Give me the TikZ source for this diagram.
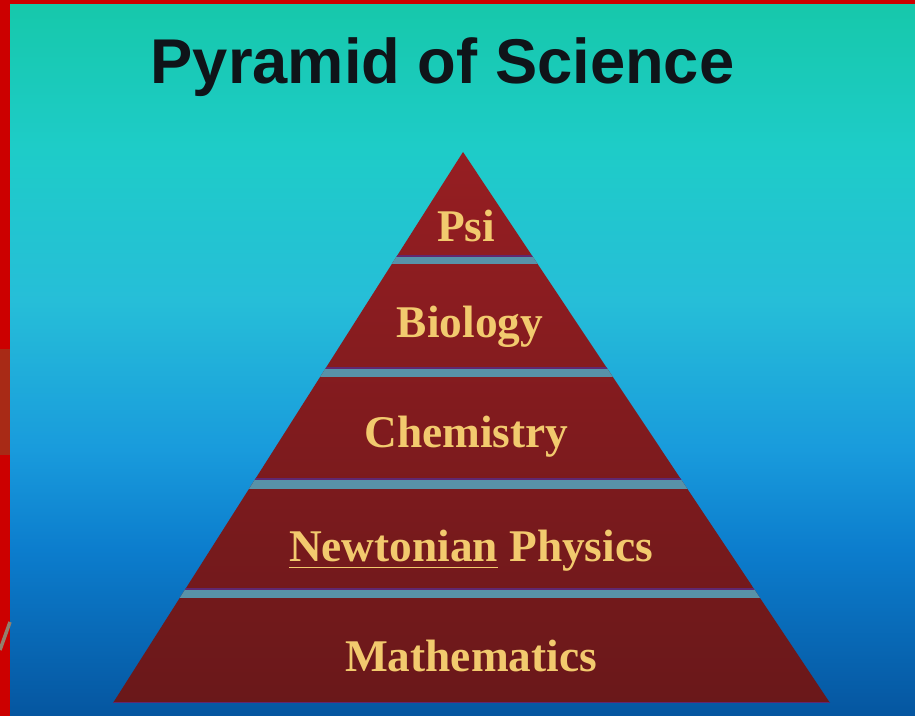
\documentclass[tikz,border=0pt]{standalone}
\usepackage{fontspec}
\setmainfont{Liberation Serif}
\setsansfont{Liberation Sans}
\definecolor{sky0}{RGB}{22,200,170}
\definecolor{sky1}{RGB}{30,204,200}
\definecolor{sky2}{RGB}{38,190,216}
\definecolor{sky3}{RGB}{25,155,220}
\definecolor{sky4}{RGB}{12,125,205}
\definecolor{sky5}{RGB}{5,86,160}
\definecolor{brickhi}{RGB}{150,30,34}
\definecolor{brickdark}{RGB}{106,24,26}
\definecolor{seam}{RGB}{88,146,168}
\definecolor{seamedge}{RGB}{96,40,112}
\definecolor{goldtxt}{RGB}{242,202,110}
\definecolor{edgered}{RGB}{204,0,0}
\definecolor{edgebrown}{RGB}{168,42,22}
\definecolor{titleink}{RGB}{15,20,25}
\pgfdeclareverticalshading{skyfade}{100bp}{
  color(0bp)=(sky5); color(25bp)=(sky5); color(36.6bp)=(sky4);
  color(43.6bp)=(sky3); color(54bp)=(sky2); color(64.5bp)=(sky1);
  color(75bp)=(sky0); color(100bp)=(sky0)}
\begin{document}
\begin{tikzpicture}[
    layer/.style={text=goldtxt, inner sep=0pt, anchor=base,
                  font=\fontsize{12.9}{15}\selectfont\bfseries},
    heading/.style={text=titleink, inner sep=0pt, anchor=base,
                    font=\sffamily\fontsize{18}{22}\selectfont\bfseries},
    gapband/.style={fill=seam}
]
\useasboundingbox (0,0) rectangle (9.15,7.16);
\shade[shading=skyfade] (0,0) rectangle (9.15,7.16);
\fill[edgered] (0,0) rectangle (0.1,7.16);
\fill[edgered] (0,7.12) rectangle (9.15,7.16);
\fill[edgebrown] (0,2.61) rectangle (0.1,3.67);
\draw[line width=1pt, gray!70!brown] (0,0.66) -- (0.1,0.94);

\coordinate (apex) at (4.63,5.64);
\coordinate (baseL) at (1.13,0.13);
\coordinate (baseR) at (8.30,0.13);
\shade[top color=brickhi, bottom color=brickdark] (apex) -- (baseL) -- (baseR) -- cycle;
\begin{scope}
\clip (apex) -- (baseL) -- (baseR) -- cycle;
\foreach \lo/\hi in {4.52/4.60, 3.39/3.48, 2.27/2.37, 1.18/1.27} {
    \fill[gapband] (0,\lo) rectangle (9.15,\hi);
    \draw[seamedge, line width=0.5pt] (0,\hi) -- (9.15,\hi);
}
\draw[seamedge, line width=0.8pt] (0,0.13) -- (9.15,0.13);
\end{scope}

\node[heading] (title) at (4.425,6.32) {Pyramid of Science};
\node[layer] (psi) at (4.66,4.74) {Psi};
\node[layer] (bio) at (4.70,3.78) {Biology};
\node[layer] (chem) at (4.665,2.68) {Chemistry};
\node[layer] (phys) at (4.71,1.54) {\underline{Newtonian} Physics};
\node[layer] (math) at (4.71,0.44) {Mathematics};
\end{tikzpicture}
\end{document}
